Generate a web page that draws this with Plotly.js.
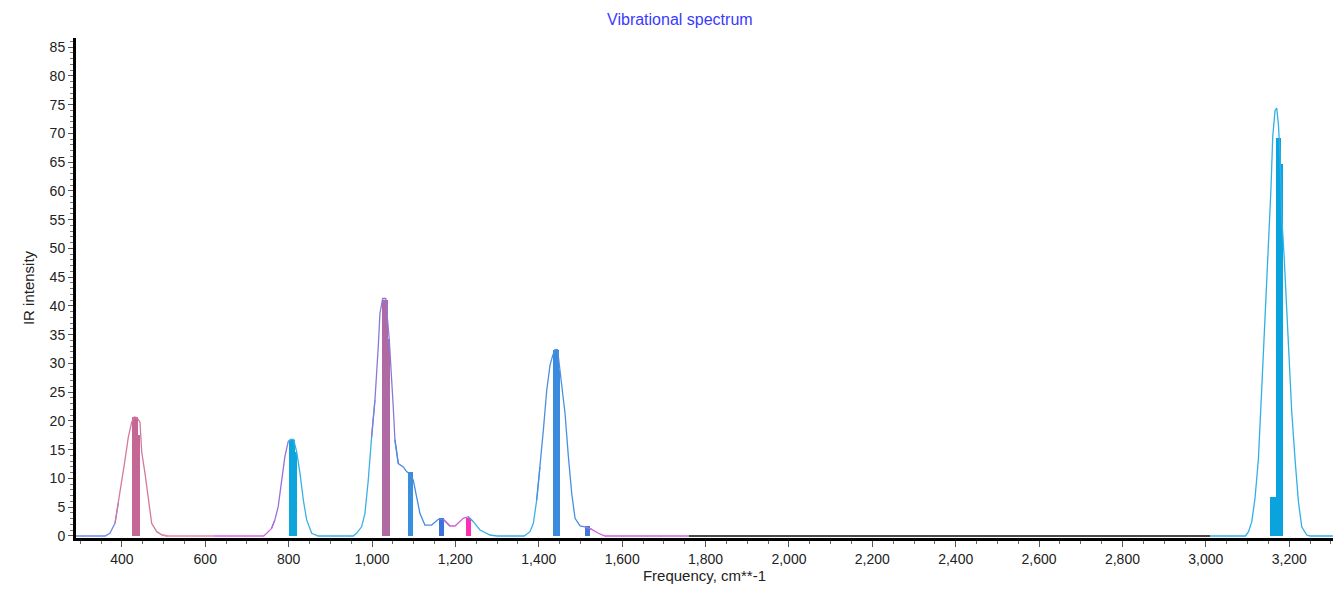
<!DOCTYPE html>
<html>
<head>
<meta charset="utf-8">
<script src="https://cdn.plot.ly/plotly-3.0.1.min.js"></script>
<style>
html,body{margin:0;padding:0;background:#fff;}
#chart{width:1333px;height:595px;}
</style>
</head>
<body>
<div id="chart"></div>
<script>
// ---- Stick spectrum (bars) ----
var stickFreq = [431, 437, 808, 814, 1031, 1036, 1092, 1166, 1231, 1441, 1445, 1517, 3161, 3174, 3178];
var stickIntensity = [20.7, 17.5, 16.7, 14.6, 41.1, 34.3, 11.2, 3.1, 3.2, 32.4, 28.8, 1.7, 6.7, 69.2, 64.7];
var stickColor = ['#c56794', '#c56794', '#0ea5dc', '#0ea5dc', '#b06aa3', '#b06aa3', '#3a8ede', '#3d72db', '#ff2fb4', '#3a8ade', '#3a8ade', '#3c7ad8', '#0aa3de', '#0aa3de', '#0aa3de'];

// ---- Broadened envelope ----
var envFreq = [290, 360, 371.6, 383.5, 391.5, 399.6, 407.5, 415.5, 423.6, 430, 436, 443.5, 447.6, 455.5, 463.4, 471.5, 483.6, 495.5, 510,
  620, 740, 747.4, 759, 767, 775, 783, 791, 799, 805, 812, 819.4, 827.3, 835.3, 843.3, 855.3, 871,
  955, 963, 975, 983, 991, 999, 1007, 1015, 1019, 1025.6, 1033, 1041.5, 1047, 1051, 1055, 1063, 1075, 1083, 1091, 1099, 1107, 1115, 1127, 1143, 1159, 1171, 1187, 1199, 1219, 1231, 1243, 1259, 1283, 1300,
  1365, 1379, 1387, 1395, 1403, 1411, 1419, 1427, 1433.5, 1439, 1445, 1451, 1455, 1463, 1471, 1479, 1487, 1499, 1511, 1527, 1543, 1559,
  1760, 3010, 3095, 3102, 3110, 3118, 3126, 3134, 3142, 3150, 3156, 3160.5, 3166, 3170, 3174, 3178, 3182, 3188, 3194, 3200, 3206, 3214, 3222, 3230, 3242, 3250, 3305];
var envIntensity = [0, 0, 0.5, 2.2, 5.7, 9.1, 13.2, 17.2, 19.8, 20.7, 20.6, 19.8, 14.6, 10.9, 6.25, 2.2, 0.75, 0.2, 0,
  0, 0, 0.47, 1.3, 2.8, 5.1, 9.7, 13.8, 16.4, 16.8, 16.8, 14.6, 10.9, 6.25, 2.8, 0.47, 0,
  0, 0.47, 1.6, 3.9, 9.7, 17.2, 23.6, 32.9, 38.7, 41.3, 41.3, 34, 28.2, 22.4, 16.7, 12.6, 12.0, 11.2, 10.8, 9.7, 6.8, 3.9, 1.9, 1.9, 2.9, 2.9, 1.74, 1.74, 3.07, 3.35, 2.5, 1.04, 0.17, 0,
  0, 0.75, 2.2, 6.25, 12, 18.4, 25.3, 29.7, 31.4, 32.4, 32.4, 28.8, 27.1, 21.3, 13.8, 7.4, 3.07, 1.74, 1.6, 1.16, 0.47, 0,
  0, 0, 0, 0.7, 2.4, 6.6, 13.3, 25.5, 37.2, 50.6, 60, 69.5, 74, 74.4, 71.7, 66.2, 55.6, 48.3, 38.9, 28.8, 21.6, 13.3, 6, 1.6, 0.17, 0, 0];

// colour bands of the envelope (start frequency of each band)
var bandStart = [290, 385, 500, 620, 760, 800, 1000, 1060, 1180, 1240, 1400, 1520, 1760, 3010];
var bandColor = ['#6f8ae8', '#d4789f', '#e889a8', '#d866e6', '#9a70d8', '#3ab0e6', '#8a78d8', '#4a8ae0', '#d060d0', '#3ab0e6', '#4a90e0', '#d060e0', '#484848', '#30b0e8'];
var bandWidth = [1.3, 1.3, 1.3, 1.3, 1.3, 1.3, 1.3, 1.3, 1.3, 1.3, 1.3, 1.3, 2, 1.3];

var xTickVals = [400, 600, 800, 1000, 1200, 1400, 1600, 1800, 2000, 2200, 2400, 2600, 2800, 3000, 3200];
var yTickVals = [0, 5, 10, 15, 20, 25, 30, 35, 40, 45, 50, 55, 60, 65, 70, 75, 80, 85];

var traces = [];
traces.push({
  type: 'bar', x: stickFreq, y: stickIntensity, width: 13,
  marker: {color: stickColor, line: {width: 0}},
  hoverinfo: 'x+y', showlegend: false
});

var fmax = 3305;
for (var b = 0; b < bandStart.length; b++) {
  var f0 = bandStart[b];
  var f1 = (b + 1 < bandStart.length) ? bandStart[b + 1] : fmax;
  var xs = [], ys = [];
  for (var i = 0; i < envFreq.length; i++) {
    var fx = envFreq[i];
    var inside = fx >= f0 && fx <= f1;
    var leftJoin = fx < f0 && (i + 1 < envFreq.length) && envFreq[i + 1] > f0;
    var rightJoin = fx > f1 && i > 0 && envFreq[i - 1] < f1;
    if (inside || leftJoin || rightJoin) { xs.push(fx); ys.push(envIntensity[i]); }
  }
  traces.push({
    type: 'scatter', mode: 'lines', x: xs, y: ys,
    line: {color: bandColor[b], width: bandWidth[b]},
    hoverinfo: 'skip', showlegend: false
  });
}

var font = 'Liberation Sans, Arial, sans-serif';
var layout = {
  width: 1333, height: 595,
  margin: {l: 76, r: 0, t: 38, b: 57, pad: 0},
  paper_bgcolor: '#ffffff', plot_bgcolor: '#ffffff',
  barmode: 'overlay', bargap: 0,
  showlegend: false,
  title: {text: 'Vibrational spectrum', x: 0.51, xref: 'container', xanchor: 'center', y: 0.968, yref: 'container', yanchor: 'middle',
    font: {family: font, size: 16, color: '#3a3aff'}},
  xaxis: {
    range: [290, 3305], showgrid: false, zeroline: false,
    showline: true, linecolor: '#000', linewidth: 3,
    ticks: 'outside', ticklen: 6, tickwidth: 1, tickcolor: '#555',
    tickvals: xTickVals, tickformat: ',d',
    tickfont: {family: font, size: 14, color: '#222'},
    minor: {dtick: 50, tick0: 0, ticks: 'outside', ticklen: 3, tickcolor: '#666', showgrid: false},
    title: {text: 'Frequency, cm**-1', standoff: 4, font: {family: font, size: 15, color: '#222'}}
  },
  yaxis: {
    range: [-0.35, 86.6], showgrid: false, zeroline: false,
    showline: true, linecolor: '#000', linewidth: 3,
    ticks: 'outside', ticklen: 5, tickwidth: 1, tickcolor: '#555',
    tickvals: yTickVals,
    tickfont: {family: font, size: 14, color: '#222'},
    minor: {dtick: 1, tick0: 0, ticks: 'outside', ticklen: 3, tickcolor: '#777', showgrid: false},
    title: {text: 'IR intensity', standoff: 12, font: {family: font, size: 15, color: '#222'}}
  }
};

Plotly.newPlot('chart', traces, layout, {displayModeBar: false, staticPlot: true});
</script>
</body>
</html>
